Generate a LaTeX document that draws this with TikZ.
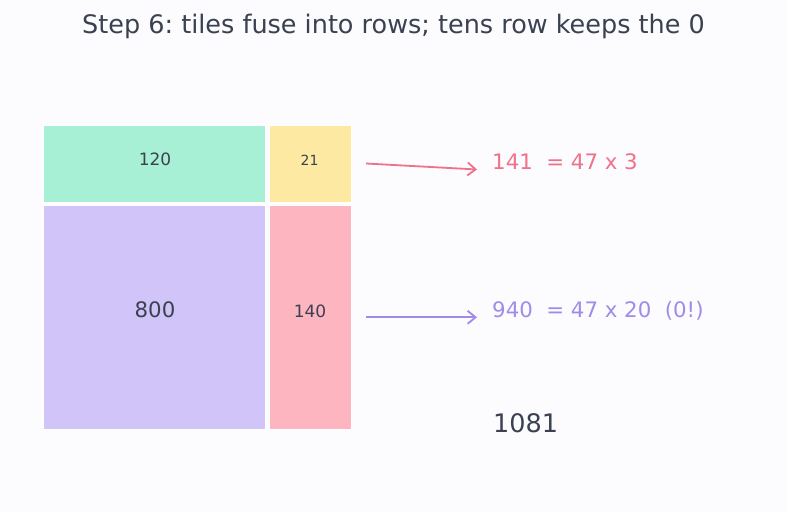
\documentclass[tikz,border=0pt]{standalone}
\usepackage{fontspec}
\setmainfont{DejaVu Sans}
\usetikzlibrary{arrows.meta}
\frenchspacing
\definecolor{bg}{HTML}{FCFBFE}
\definecolor{ink}{HTML}{3A4150}
\definecolor{tgreen}{HTML}{A7F0D5}
\definecolor{tyellow}{HTML}{FDE9A1}
\definecolor{tpurple}{HTML}{D1C4F9}
\definecolor{tpink}{HTML}{FDB5C0}
\definecolor{cred}{HTML}{F0718A}
\definecolor{cpurple}{HTML}{A08CE8}
\tikzset{
  tile/.style={draw=white, line width=1.2bp, inner sep=0pt, minimum width=#1},
  fs/.style={font=\fontsize{#1bp}{#1bp}\selectfont},
  conn/.style={line width=1.8bp, -{Straight Barb[length=8bp,width=13bp,line width=1.8bp]}},
}
\begin{document}
\begin{tikzpicture}[x=1bp,y=-1bp]
\fill[bg] (0,0) rectangle (787,512);
\useasboundingbox (0,0) rectangle (787,512);
\node[fs=25.5, text=ink, anchor=base] (title) at (393.5,34) {Step 6: tiles fuse into rows; tens row keeps the 0};
% tiles
\node[tile=222bp, minimum height=78bp, fill=tgreen, anchor=north west] (g) at (43,124.5) {};
\node[tile=82bp, minimum height=78bp, fill=tyellow, anchor=north west] (y) at (268.5,124.5) {};
\node[tile=222bp, minimum height=224bp, fill=tpurple, anchor=north west] (p) at (43,205) {};
\node[tile=82bp, minimum height=224bp, fill=tpink, anchor=north west] (k) at (268.5,205) {};
\node[fs=17, text=ink] (gl) at (155,159.5) {120};
\node[fs=14, text=ink] (yl) at (309.5,160) {21};
\node[fs=21.3, text=ink] (pl) at (155,310) {800};
\node[fs=17, text=ink] (kl) at (310,311) {140};
% labels
\node[fs=21.3, text=cred, anchor=base west, inner sep=0pt] (e1) at (492,169.5) {141\ \ = 47 x 3};
\node[fs=21.3, text=cpurple, anchor=base west, inner sep=0pt] (e2) at (492,317) {940\ \ = 47 x 20\ \ (0!)};
\node[fs=25.5, text=ink, anchor=base west, inner sep=0pt] (sum) at (493,432) {1081};
% connectors
\coordinate (a1s) at (366,163.5);
\coordinate (a1e) at (477,169.5);
\coordinate (a2s) at (366,317.3);
\coordinate (a2e) at (477,317.3);
\draw[conn, cred] (a1s) -- (a1e);
\draw[conn, cpurple] (a2s) -- (a2e);
\end{tikzpicture}
\end{document}
